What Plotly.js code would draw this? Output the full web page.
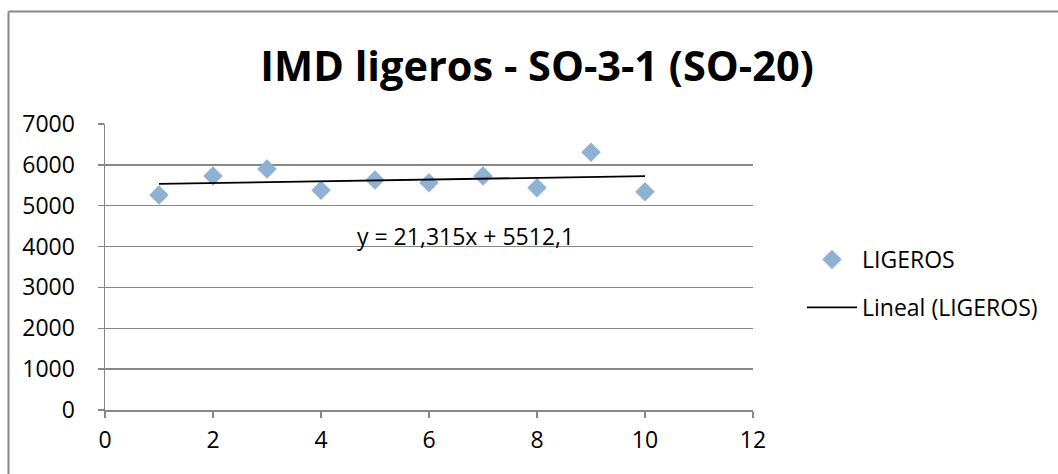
<!DOCTYPE html>
<html>
<head>
<meta charset="utf-8">
<script src="https://cdn.plot.ly/plotly-3.0.1.min.js"></script>
<style>
html,body{margin:0;padding:0;background:#fff;}
#chart{width:1058px;height:474px;}
</style>
</head>
<body>
<div id="chart"></div>
<script>
// Data
const xValues = [1, 2, 3, 4, 5, 6, 7, 8, 9, 10];
const ligeros = [5260, 5730, 5900, 5380, 5630, 5560, 5730, 5440, 6310, 5340];
const trendSlope = 21.315;
const trendIntercept = 5512.1;
const trendLabel = "y = 21,315x + 5512,1";
const chartTitle = "IMD ligeros - SO-3-1 (SO-20)";
const seriesName = "LIGEROS";
const trendName = "Lineal (LIGEROS)";

const trendX = [xValues[0], xValues[xValues.length - 1]];
const trendY = trendX.map(x => trendSlope * x + trendIntercept);

const FONT = "'Open Sans', Lato, sans-serif";
const GRAY = "#878787";
const FS = 23;

// plot area geometry (px)
const L = 105, R = 1058 - 753, T = 124, B = 474 - 410;
const W = 1058 - L - R, H = 474 - T - B;
const px = v => (v - L) / W;
const py = v => (474 - B - v) / H;

const traces = [
  {
    x: xValues, y: ligeros, type: "scatter", mode: "markers", name: seriesName,
    legendgroup: "a",
    marker: {symbol: "diamond", size: 15, color: "#8FB1D4"}
  },
  {
    x: trendX, y: trendY, type: "scatter", mode: "lines", name: trendName,
    legendgroup: "b",
    line: {color: "#000000", width: 1.8}
  }
];

const layout = {
  width: 1058, height: 474,
  margin: {l: L, r: R, t: T, b: B, pad: 0},
  paper_bgcolor: "#ffffff", plot_bgcolor: "#ffffff",
  font: {family: FONT, size: FS, color: "#000"},
  title: {
    text: "<b>" + chartTitle + "</b>",
    font: {family: FONT, size: 41.5, color: "#000"},
    x: 537 / 1058, xanchor: "center", xref: "container",
    y: 1 - 66 / 474, yanchor: "middle", yref: "container"
  },
  xaxis: {
    range: [0, 12], dtick: 2, tick0: 0,
    showgrid: false, zeroline: false,
    showline: true, linecolor: GRAY, linewidth: 1.5,
    ticks: "outside", ticklen: 6, tickcolor: GRAY, tickwidth: 1.5,
    ticklabelstandoff: 3,
    tickfont: {family: FONT, size: FS, color: "#000"},
    fixedrange: true
  },
  yaxis: {
    range: [0, 7000], dtick: 1000, tick0: 0,
    showgrid: true, gridcolor: GRAY, gridwidth: 1.5,
    zeroline: false,
    showline: true, linecolor: GRAY, linewidth: 1.5,
    ticks: "outside", ticklen: 6, tickcolor: GRAY, tickwidth: 1.5,
    ticklabelstandoff: 18,
    tickfont: {family: FONT, size: FS, color: "#000"},
    fixedrange: true
  },
  legend: {
    xref: "container", yref: "container",
    x: 802 / 1058, xanchor: "left",
    y: 1 - 238 / 474, yanchor: "top",
    font: {family: FONT, size: FS, color: "#000"},
    itemwidth: 50, tracegroupgap: 15, traceorder: "grouped",
    bgcolor: "rgba(0,0,0,0)"
  },
  showlegend: true,
  annotations: [{
    text: trendLabel, xref: "paper", yref: "paper",
    x: px(465), y: py(236), xanchor: "center", yanchor: "middle",
    showarrow: false, font: {family: FONT, size: FS, color: "#000"}
  }],
  shapes: [
    {type: "line", xref: "paper", yref: "paper", x0: px(8.5), x1: px(1060), y0: py(11.5), y1: py(11.5),
     line: {color: GRAY, width: 2}, layer: "above"},
    {type: "line", xref: "paper", yref: "paper", x0: px(8.5), x1: px(8.5), y0: py(11.5), y1: py(476),
     line: {color: GRAY, width: 2}, layer: "above"}
  ]
};

Plotly.newPlot("chart", traces, layout, {staticPlot: true, displayModeBar: false});
</script>
</body>
</html>
